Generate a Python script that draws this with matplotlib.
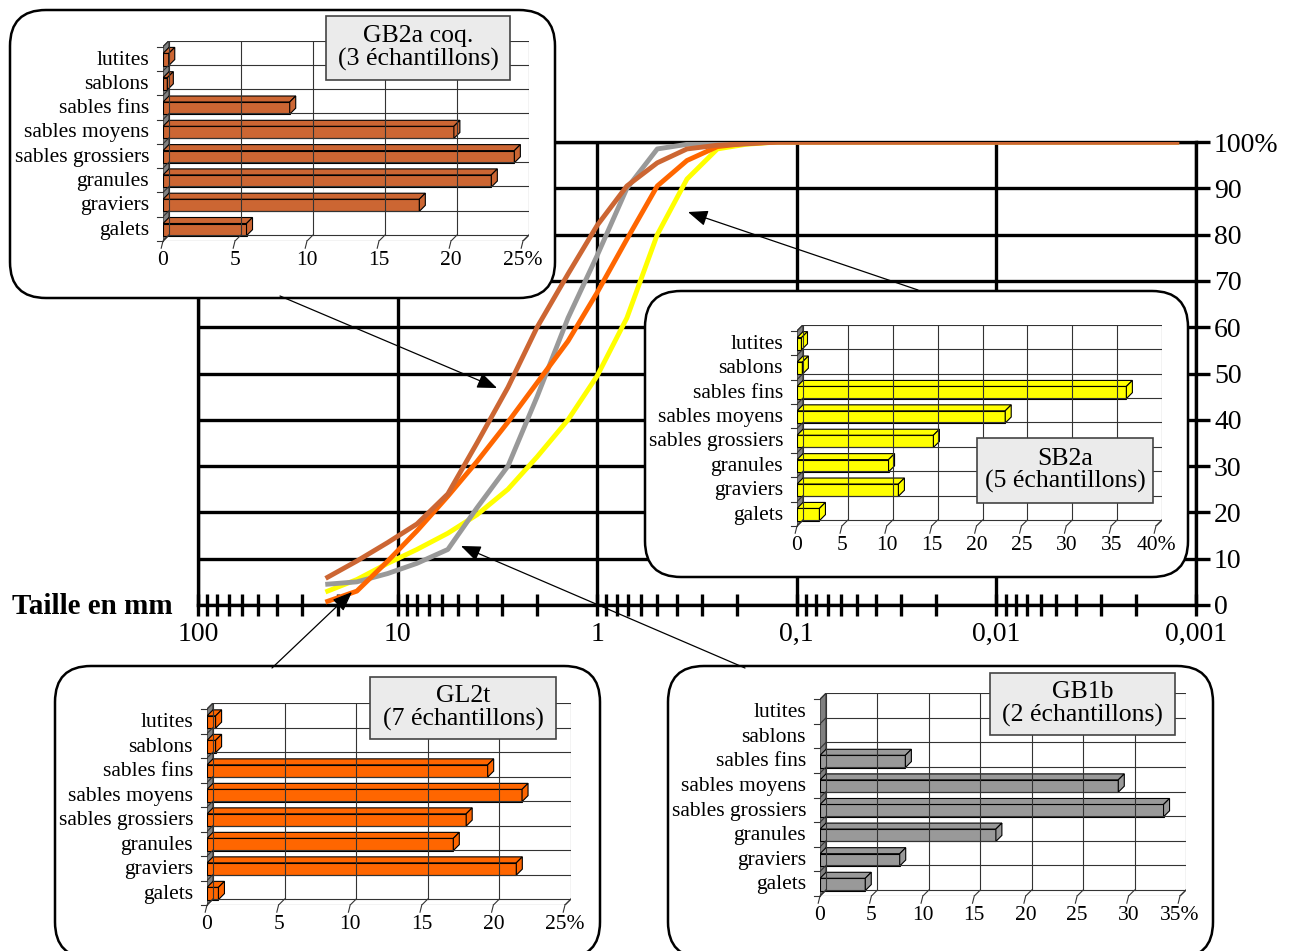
import matplotlib
matplotlib.use("Agg")
import matplotlib.pyplot as plt
from matplotlib.patches import FancyBboxPatch, Rectangle, Polygon
from matplotlib.ticker import FixedLocator, NullFormatter

plt.rcParams['font.family'] = ['Liberation Serif', 'DejaVu Serif']

W, H = 1290, 951

# cumulative curves (sieve size in mm, cumulative %)
sizes_mm = [22.4, 16, 11.2, 8, 5.6, 4, 2.8, 2, 1.4, 1, 0.71, 0.5, 0.355, 0.25, 0.18, 0.125, 0.09, 0.00125]
cum_sb2a = [3, 5.5, 9, 12, 15.5, 19.5, 25, 32, 40, 49.5, 62, 80, 92, 98.5, 99.5, 100, 100, 100]
cum_gb1b = [4.5, 5, 6.8, 9, 12, 21, 30, 45, 62, 75.5, 90, 98.5, 99.5, 99.8, 100, 100, 100, 100]
cum_gl2t = [0.8, 3, 9.5, 16, 23.5, 31, 39.5, 48, 57, 67.5, 79, 90.5, 96, 99, 99.7, 100, 100, 100]
cum_gb2a = [6, 9.5, 13.5, 17.5, 24, 35, 47, 60, 71.5, 82, 90.5, 95.5, 98.5, 99.3, 99.6, 100, 100, 100]

# class proportions, top to bottom
classes = ['lutites', 'sablons', 'sables fins', 'sables moyens', 'sables grossiers',
           'granules', 'graviers', 'galets']
pct_gb2a = [0.4, 0.3, 8.8, 20.2, 24.4, 22.8, 17.8, 5.8]
pct_sb2a = [0.5, 0.6, 36.7, 23.2, 15.2, 10.2, 11.3, 2.5]
pct_gl2t = [0.6, 0.6, 19.6, 22.0, 18.1, 17.2, 21.6, 0.8]
pct_gb1b = [0, 0, 8.3, 29.0, 33.4, 17.1, 7.75, 4.4]

x_ticks = [100, 10, 1, 0.1, 0.01, 0.001]
x_labels = ['100', '10', '1', '0,1', '0,01', '0,001']
y_ticks = list(range(0, 101, 10))
y_labels = [str(v) for v in y_ticks[:-1]] + ['100%']

fig = plt.figure(figsize=(W / 100, H / 100), dpi=100)

# ---- main grading chart
ax = fig.add_axes([198 / W, 1 - 605 / H, 998 / W, 463 / H], zorder=0)
ax.set_xscale('log')
ax.set_xlim(100, 0.001)
ax.set_ylim(0, 100)
for v in x_ticks:
    ax.axvline(v, color='black', lw=2.4, zorder=1)
for v in y_ticks:
    ax.axhline(v, color='black', lw=2.4, zorder=1)
for s in ax.spines.values():
    s.set_linewidth(2.4)

ax.plot(sizes_mm, cum_sb2a, color='#FFFF00', lw=3.5, zorder=3)
ax.plot(sizes_mm, cum_gb1b, color='#999999', lw=3.5, zorder=3)
ax.plot(sizes_mm, cum_gl2t, color='#FF6600', lw=3.5, zorder=3)
ax.plot(sizes_mm, cum_gb2a, color='#CC6633', lw=3.5, zorder=3)

minor = [m * 10.0 ** e for e in range(-3, 2) for m in range(2, 10)]
ax.xaxis.set_major_locator(FixedLocator(x_ticks))
ax.xaxis.set_minor_locator(FixedLocator(minor))
ax.xaxis.set_minor_formatter(NullFormatter())
ax.set_xticklabels(x_labels)
ax.tick_params(axis='x', which='both', direction='inout', length=16, width=2.4,
               labelsize=20, pad=4)
ax.yaxis.tick_right()
ax.set_yticks(y_ticks)
ax.set_yticklabels(y_labels)
ax.tick_params(axis='y', direction='out', length=10, width=2.4, labelsize=20, pad=3)
fig.text(12 / W, 1 - 606 / H, 'Taille en mm', fontweight='bold', fontsize=21, va='center')

# ---- pixel overlay for the rounded frames and arrows
ov = fig.add_axes([0, 0, 1, 1], zorder=1)
ov.set_xlim(0, W)
ov.set_ylim(H, 0)
ov.axis('off')

frames = [(10, 10, 545, 288), (645, 291, 543, 286), (55, 666, 545, 292), (668, 666, 545, 292)]
for x, y, w, h in frames:
    ov.add_patch(FancyBboxPatch((x, y), w, h, boxstyle='round,pad=0,rounding_size=36',
                                fc='white', ec='black', lw=1.8))

arrows = [((280, 296), (497, 388)), ((918, 290), (688, 212)),
          ((272, 668), (352, 592)), ((745, 668), (461, 546))]
for tail, head in arrows:
    ov.annotate('', xy=head, xytext=tail,
                arrowprops=dict(arrowstyle='-|>,head_length=0.55,head_width=0.22',
                                color='black', lw=0.9, shrinkA=0, shrinkB=0,
                                mutation_scale=22))


def bar_inset(vals, xmax, color, x0, x1, yb, rh, d=6):
    n = len(vals)
    ax2 = fig.add_axes([x0 / W, 1 - yb / H, (x1 + d - x0) / W, (n * rh + d) / H], zorder=3)
    dx = d * xmax / (x1 - x0)
    dy = d / rh
    ax2.set_xlim(0, xmax + dx)
    ax2.set_ylim(0, n + dy)
    ax2.patch.set_visible(False)
    for s in ax2.spines.values():
        s.set_visible(False)
    g = dict(color='#333333', lw=0.8)
    ax2.add_patch(Polygon([(0, 0), (dx, dy), (dx, n + dy), (0, n)], fc='#808080', ec='#333333', lw=0.8))
    for v in range(0, xmax + 1, 5):
        ax2.plot([v + dx, v + dx], [dy, n + dy], **g)
        ax2.plot([v, v + dx], [0, dy], **g)
        ax2.plot([v, v - dx * 0.3], [0, -dy * 1.2], clip_on=False, **g)
    for i in range(n + 1):
        ax2.plot([dx, xmax + dx], [i + dy, i + dy], **g)
        ax2.plot([0, dx], [i, i + dy], **g)
        ax2.plot([-dx, 0], [i, i], clip_on=False, **g)
    ax2.plot([0, xmax], [0, 0], **g)
    ax2.plot([xmax, xmax + dx], [0, dy], **g)
    rev = vals[::-1]
    for i, v in enumerate(rev):
        if v <= 0:
            continue
        y0, hh = i + 0.22, 0.5
        kw = dict(fc=color, ec='black', lw=0.8)
        ax2.add_patch(Rectangle((0, y0), v, hh, **kw))
        ax2.add_patch(Polygon([(0, y0 + hh), (v, y0 + hh), (v + dx, y0 + hh + dy), (dx, y0 + hh + dy)], **kw))
        ax2.add_patch(Polygon([(v, y0), (v + dx, y0 + dy), (v + dx, y0 + hh + dy), (v, y0 + hh)], **kw))
    xt = list(range(0, xmax + 1, 5))
    ax2.set_xticks(xt)
    ax2.set_xticklabels([str(t) for t in xt[:-1]] + [f'{xt[-1]}%'])
    ax2.set_yticks([i + 0.55 for i in range(n)])
    ax2.set_yticklabels(classes[::-1])
    ax2.tick_params(axis='both', length=0, labelsize=15.5)
    ax2.tick_params(axis='y', pad=10)
    ax2.tick_params(axis='x', pad=7)


bar_inset(pct_gb2a, 25, '#CC6633', 163, 523, 241, 24.3)
bar_inset(pct_sb2a, 40, '#FFFF00', 797, 1156, 526, 24.4)
bar_inset(pct_gl2t, 25, '#FF6600', 207, 565, 905, 24.5)
bar_inset(pct_gb1b, 35, '#999999', 820, 1180, 896, 24.6)

# ---- sample name boxes on top
top = fig.add_axes([0, 0, 1, 1], zorder=5)
top.set_xlim(0, W)
top.set_ylim(H, 0)
top.axis('off')
names = [((326, 16, 184, 64), 'GB2a coq.\n(3 échantillons)'),
         ((977, 438, 176, 65), 'SB2a\n(5 échantillons)'),
         ((370, 677, 186, 62), 'GL2t\n(7 échantillons)'),
         ((990, 673, 185, 62), 'GB1b\n(2 échantillons)')]
for (x, y, w, h), txt in names:
    top.add_patch(Rectangle((x, y), w, h, fc='#EBEBEB', ec='#444444', lw=1.2))
    top.text(x + w / 2, y + h / 2, txt, ha='center', va='center', fontsize=18.5, linespacing=1.0)

fig.savefig('out.png', dpi=100)
